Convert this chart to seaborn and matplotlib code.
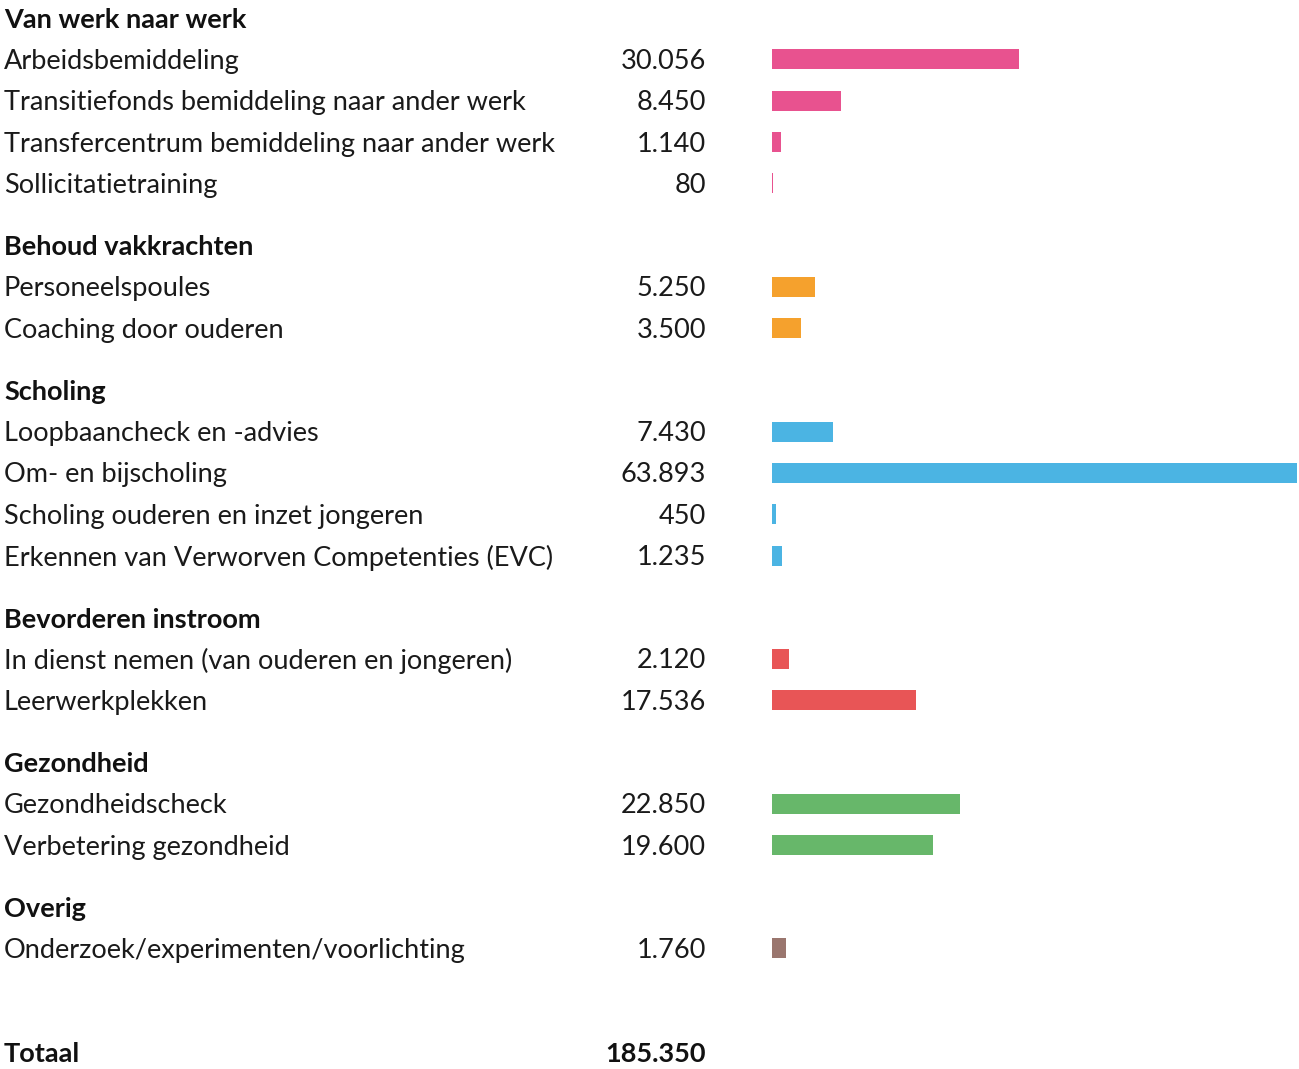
import matplotlib.pyplot as plt
import pandas as pd
import seaborn as sns

# --- data ---
groepen = ["Van werk naar werk", "Behoud vakkrachten", "Scholing",
           "Bevorderen instroom", "Gezondheid", "Overig"]
maatregelen = [
    ["Arbeidsbemiddeling", "Transitiefonds bemiddeling naar ander werk",
     "Transfercentrum bemiddeling naar ander werk", "Sollicitatietraining"],
    ["Personeelspoules", "Coaching door ouderen"],
    ["Loopbaancheck en -advies", "Om- en bijscholing",
     "Scholing ouderen en inzet jongeren",
     "Erkennen van Verworven Competenties (EVC)"],
    ["In dienst nemen (van ouderen en jongeren)", "Leerwerkplekken"],
    ["Gezondheidscheck", "Verbetering gezondheid"],
    ["Onderzoek/experimenten/voorlichting"],
]
aantallen = [
    [30056, 8450, 1140, 80],
    [5250, 3500],
    [7430, 63893, 450, 1235],
    [2120, 17536],
    [22850, 19600],
    [1760],
]
kleuren = ["#E8528F", "#F5A12D", "#4BB4E3", "#E85556", "#67B76A", "#9A766E"]

# --- layout (pixels) ---
W, H = 1299, 1069
STEP = 41.35
BAR_X0, BAR_X1 = 772, 1297
vmax = max(max(a) for a in aantallen)


def fmt(v):
    return f"{v:,}".replace(",", ".")


rows = []
headers = []
y = 18
for gi, (g, labels, vals) in enumerate(zip(groepen, maatregelen, aantallen)):
    if gi > 0:
        y += 1.5 * STEP
    headers.append((g, y))
    for lab, v in zip(labels, vals):
        y += STEP
        rows.append({"maatregel": lab, "waarde": v, "groep": g, "y": y})
y_totaal = y + 2.5 * STEP
df = pd.DataFrame(rows)

sns.set_theme(style="white")
plt.rcParams["font.family"] = ["Lato", "DejaVu Sans"]

fig = plt.figure(figsize=(W / 100, H / 100), dpi=100)
ax = fig.add_axes([0, 0, 1, 1])

sns.barplot(data=df, x="waarde", y="y", hue="groep", orient="h",
            native_scale=True, palette=dict(zip(groepen, kleuren)),
            hue_order=groepen, dodge=False, saturation=1, errorbar=None,
            width=20 / STEP, linewidth=0, legend=False, ax=ax)

# map value axis so that 0 -> BAR_X0 px and vmax -> BAR_X1 px
per_px = vmax / (BAR_X1 - BAR_X0)
ax.set_xlim(-BAR_X0 * per_px, (W - BAR_X0) * per_px)
ax.set_ylim(H, 0)
ax.set_axis_off()

x_lab = 4 * per_px - BAR_X0 * per_px
x_num = 706 * per_px - BAR_X0 * per_px
fs = 19.5
dy = 2  # small nudge so text sits like the original

for g, yy in headers:
    ax.text(x_lab, yy + dy, g, fontsize=fs, fontweight="bold", va="center",
            ha="left", color="#111111")
for _, r in df.iterrows():
    ax.text(x_lab, r["y"] + dy, r["maatregel"], fontsize=fs, va="center",
            ha="left", color="#1a1a1a")
    ax.text(x_num, r["y"] + dy, fmt(r["waarde"]), fontsize=fs, va="center",
            ha="right", color="#1a1a1a")

totaal = sum(sum(a) for a in aantallen)
ax.text(x_lab, y_totaal + dy, "Totaal", fontsize=fs, fontweight="bold",
        va="center", ha="left", color="#111111")
ax.text(x_num, y_totaal + dy, fmt(totaal), fontsize=fs, fontweight="bold",
        va="center", ha="right", color="#111111")

fig.savefig("out.png", dpi=100, facecolor="white")
